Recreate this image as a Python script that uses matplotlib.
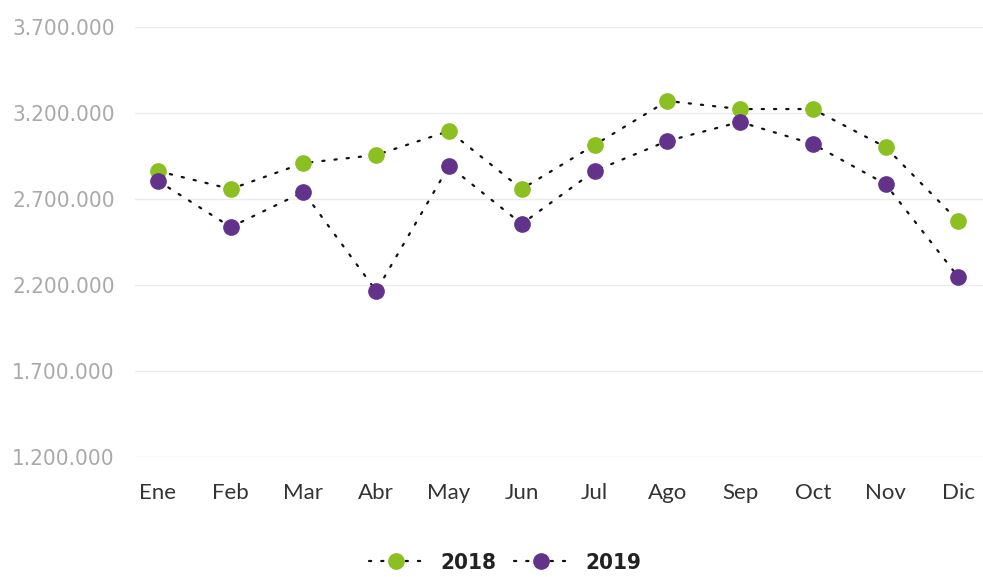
import matplotlib
matplotlib.use("Agg")
import matplotlib.pyplot as plt
from matplotlib.ticker import FuncFormatter

months = ["Ene", "Feb", "Mar", "Abr", "May", "Jun", "Jul", "Ago", "Sep", "Oct", "Nov", "Dic"]
series_2018 = [2862000, 2758000, 2909000, 2956000, 3095000, 2758000, 3014000, 3270000, 3223000, 3223000, 3002000, 2572000]
series_2019 = [2805000, 2537000, 2741000, 2165000, 2892000, 2555000, 2863000, 3037000, 3148000, 3020000, 2787000, 2247000]
y_ticks = [1200000, 1700000, 2200000, 2700000, 3200000, 3700000]

fig = plt.figure(figsize=(9.83, 5.77), dpi=100)
ax = fig.add_axes([135/983, 1 - 457/577, 848/983, 430/577])

x = list(range(len(months)))
ax.plot(x, series_2018, linestyle=(0, (1, 4.5)), color="#111111", lw=1.6,
        dash_capstyle="round", marker="o", markersize=11, markerfacecolor="#8cbf22",
        markeredgecolor="#8cbf22", label="2018", zorder=3)
ax.plot(x, series_2019, linestyle=(0, (1, 4.5)), color="#111111", lw=1.6,
        dash_capstyle="round", marker="o", markersize=11, markerfacecolor="#63338c",
        markeredgecolor="#63338c", label="2019", zorder=3)

ax.set_ylim(1200000, 3700000)
ax.set_xlim(-0.316, 11.34)
ax.set_yticks(y_ticks)
ax.yaxis.set_major_formatter(FuncFormatter(lambda v, p: f"{int(v):,}".replace(",", ".")))
ax.set_xticks(x)
ax.set_xticklabels(months)

ax.grid(axis="y", color="#ebebeb", lw=1)
ax.set_axisbelow(True)
for s in ax.spines.values():
    s.set_visible(False)
ax.tick_params(axis="both", length=0)
ax.tick_params(axis="x", pad=19)
ax.tick_params(axis="y", pad=88.5)
for lab in ax.get_yticklabels():
    lab.set_fontfamily("DejaVu Sans")
    lab.set_fontstretch("condensed")
    lab.set_fontsize(16)
    lab.set_color("#a9a9a9")
    lab.set_horizontalalignment("left")
for lab in ax.get_xticklabels():
    lab.set_fontfamily("Lato")
    lab.set_fontsize(16)
    lab.set_color("#333333")

leg = fig.legend(loc="center", bbox_to_anchor=(505/983, 1 - 563/577), ncol=2, frameon=False,
                 handlelength=2.4, columnspacing=0.8, handletextpad=0.8,
                 prop={"family": "DejaVu Sans", "stretch": "condensed", "weight": "bold", "size": 16})
for t in leg.get_texts():
    t.set_color("#222222")

fig.savefig("out.png", dpi=100)
